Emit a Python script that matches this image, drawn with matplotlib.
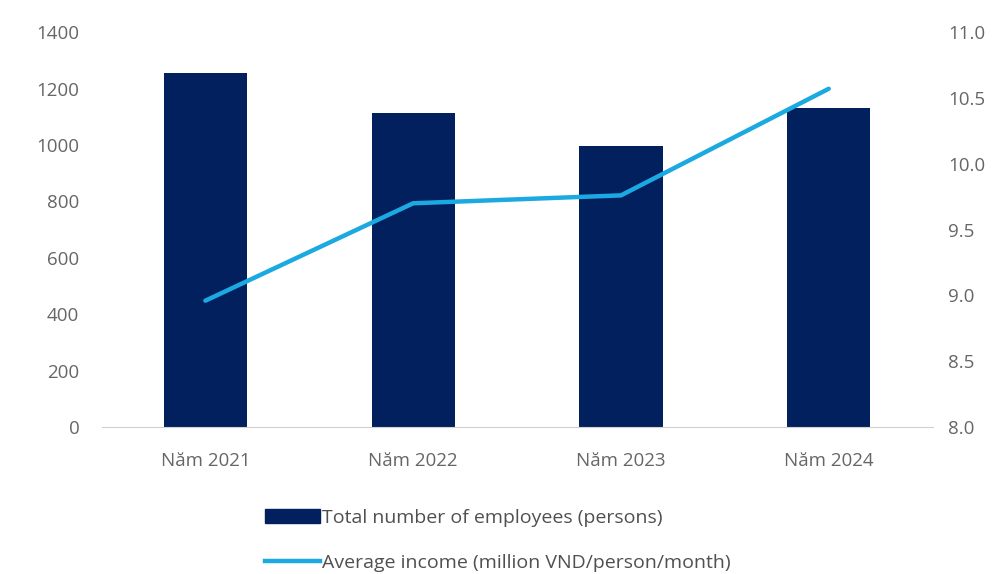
import matplotlib.pyplot as plt
from matplotlib.lines import Line2D
from matplotlib.patches import Patch

plt.rcParams['font.family'] = ['Open Sans', 'DejaVu Sans']

years = ["Năm 2021", "Năm 2022", "Năm 2023", "Năm 2024"]
employees = [1255, 1115, 996, 1130]
income = [8.96, 9.70, 9.76, 10.57]

bar_color = "#03205e"
line_color = "#1ba9e1"
text_color = "#666666"

fig = plt.figure(figsize=(10.05, 5.74), dpi=100)
ax = fig.add_axes([0.101, 0.256, 0.827, 0.688])
ax2 = ax.twinx()

x = range(len(years))
ax.bar(x, employees, width=0.4, color=bar_color, zorder=2)
ax2.plot(x, income, color=line_color, linewidth=3.2, solid_capstyle='round', zorder=3)

ax.set_xlim(-0.5, len(years) - 0.5)
ax.set_ylim(0, 1400)
ax.set_yticks(range(0, 1401, 200))
ax2.set_ylim(8.0, 11.0)
ax2.set_yticks([8.0, 8.5, 9.0, 9.5, 10.0, 10.5, 11.0])
ax2.set_yticklabels([f"{v:.1f}" for v in ax2.get_yticks()])
ax.set_xticks(list(x))
ax.set_xticklabels(years)

for a in (ax, ax2):
    for s in a.spines.values():
        s.set_visible(False)
    a.tick_params(length=0, labelsize=13.5, colors=text_color)
ax.spines['bottom'].set_visible(True)
ax.spines['bottom'].set_color("#d0d0d0")
ax.tick_params(axis='y', pad=16)
ax.tick_params(axis='x', pad=18)
ax2.tick_params(axis='y', pad=11)

handles = [Patch(color=bar_color), Line2D([], [], color=line_color, linewidth=3.2)]
labels = ["Total number of employees (persons)",
          "Average income (million VND/person/month)"]
fig.legend(handles, labels, loc='upper left', bbox_to_anchor=(0.264, 0.114),
           ncol=1, frameon=False, fontsize=14, labelcolor="#505050",
           borderaxespad=0, borderpad=0,
           handlelength=2.8, handleheight=0.75, handletextpad=0.1, labelspacing=1.4)

fig.savefig("out.png", dpi=100)
